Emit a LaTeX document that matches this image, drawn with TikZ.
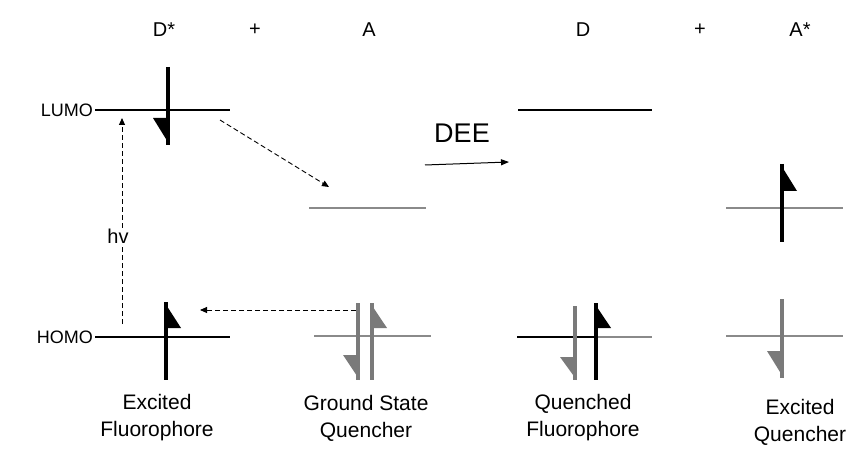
\documentclass[tikz,border=0pt]{standalone}
\usepackage{fontspec}
\setmainfont{Liberation Sans}
\usetikzlibrary{arrows.meta}
\definecolor{lvgray}{HTML}{8A8A8A}
\definecolor{spgray}{HTML}{7A7A7A}
\tikzset{
  lvlblack/.style={draw=black,line width=1.2pt},
  lvlgray/.style={draw=lvgray,line width=1.2pt},
  lbl/.style={font=\fontsize{20}{26}\selectfont,align=center,inner sep=0pt},
  sidelbl/.style={font=\fontsize{18}{22}\selectfont,inner sep=0pt},
  botlbl/.style={font=\fontsize{21}{27}\selectfont,align=center,inner sep=0pt},
  dasharrow/.style={draw=black,line width=0.9pt,dash pattern=on 5pt off 3pt,-{Triangle[length=7pt,width=6pt]}},
}
% up spin: x, top y, bottom y, flag bottom y, colour
\newcommand\upspinx[5]{%
  \draw[line width=3.4pt,draw=#5] (#1,#2) -- (#1,#3);
  \fill[#5] (#1-1.7,#2) -- (#1+15,#4) -- (#1-1.7,#4) -- cycle;}
% down spin: x, top y, bottom y, flag top y, colour
\newcommand\downspinx[5]{%
  \draw[line width=3.4pt,draw=#5] (#1,#2) -- (#1,#3);
  \fill[#5] (#1+1.7,#4) -- (#1-15,#4) -- (#1+1.7,#3) -- cycle;}
\begin{document}
\begin{tikzpicture}[x=1pt,y=-1pt]
\useasboundingbox (0,0) rectangle (850,462);
% top labels
\node[lbl] (tD1) at (164,30) {D*};
\node[lbl] (tp1) at (255,30) {+};
\node[lbl] (tA1) at (369,30) {A};
\node[lbl] (tD2) at (583,30) {D};
\node[lbl] (tp2) at (700,30) {+};
\node[lbl] (tA2) at (800,30) {A*};
% side labels
\node[sidelbl,anchor=east] (lumo) at (93,110) {LUMO};
\node[sidelbl,anchor=east] (homo) at (93,337) {HOMO};
% levels
\draw[lvlblack] (95,110) -- (230,110);
\draw[lvlblack] (95,337) -- (230,337);
\draw[lvlgray] (309,208) -- (426,208);
\draw[lvlgray] (314,336) -- (431,336);
\draw[lvlblack] (518,110) -- (652,110);
\draw[lvlblack] (517,337) -- (596,337);
\draw[lvlgray] (596,337) -- (652,337);
\draw[lvlgray] (726,208) -- (843,208);
\draw[lvlgray] (726,336) -- (843,336);
% spins
\downspinx{168}{67}{145}{118}{black}
\upspinx{166}{302}{380}{328}{black}
\downspinx{358}{303}{380}{355}{spgray}
\upspinx{372}{303}{380}{328}{spgray}
\downspinx{575}{306}{380}{357}{spgray}
\upspinx{596}{303}{380}{328}{black}
\upspinx{782}{164}{242}{191}{black}
\downspinx{782}{299}{378}{351}{spgray}
% connectors
\coordinate (hvS) at (122,324);
\coordinate (hvE) at (122,118);
\coordinate (tS) at (220,120);
\coordinate (tE) at (329,187);
\coordinate (bS) at (356,310);
\coordinate (bE) at (200,310);
\coordinate (dS) at (425,165);
\coordinate (dE) at (509,162);
\draw[dasharrow] (hvS) -- (hvE);
\draw[dasharrow] (tS) -- (tE);
\draw[dasharrow] (bS) -- (bE);
\draw[line width=1pt,-{Triangle[length=8pt,width=6pt]}] (dS) -- (dE);
\node[lbl,fill=white,inner sep=1pt] (hv) at (118,236) {hv};
\node[font=\fontsize{27}{30}\selectfont,inner sep=0pt] (dee) at (462,133) {DEE};
% bottom labels
\node[botlbl] (b1) at (157,418) {Excited\\Fluorophore};
\node[botlbl] (b2) at (366,418) {Ground State\\Quencher};
\node[botlbl] (b3) at (583,418) {Quenched\\Fluorophore};
\node[botlbl] (b4) at (800,422) {Excited\\Quencher};
\end{tikzpicture}
\end{document}
